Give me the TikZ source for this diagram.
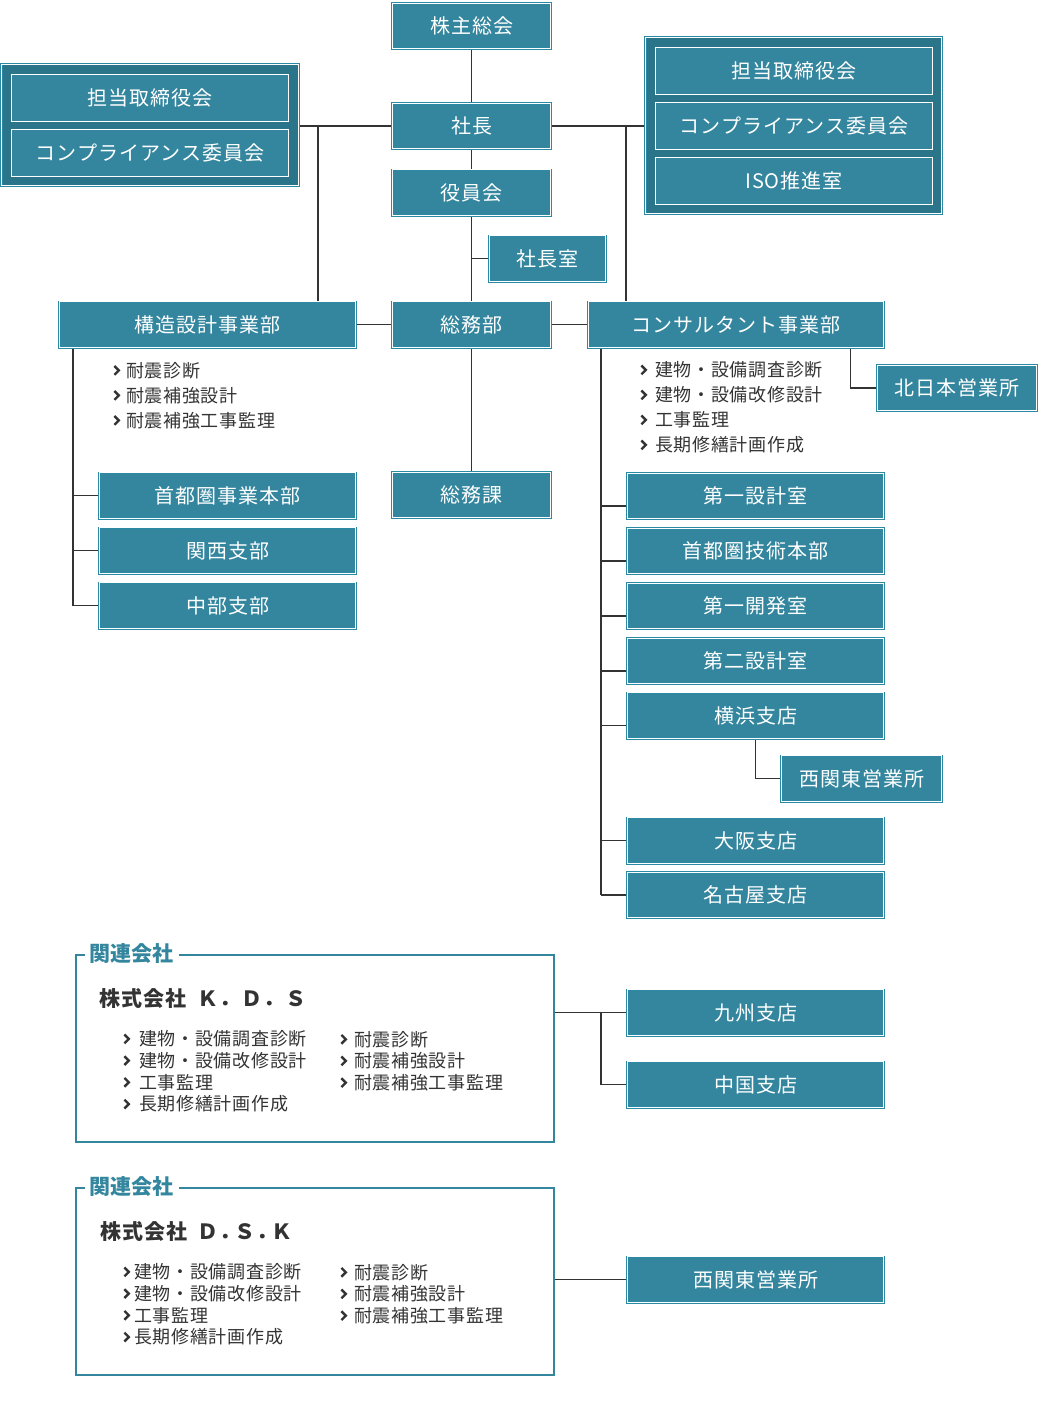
\documentclass[tikz,border=0pt]{standalone}
\usepackage{fontspec}
\usepackage{tikz}
\usetikzlibrary{positioning,calc}
\setmainfont{Noto Sans CJK JP}
\newfontfamily\boxfont[LetterSpace=5]{Noto Sans CJK JP}
\newfontfamily\listfont[LetterSpace=4]{Noto Sans CJK JP}
\newfontfamily\firmfont[LetterSpace=5]{Noto Sans CJK JP}
\definecolor{OrgTeal}{RGB}{51,134,158}
\definecolor{OrgDeep}{RGB}{42,117,137}
\definecolor{OrgEdge}{RGB}{44,137,163}
\definecolor{InkGray}{RGB}{51,51,51}
\pgfdeclarelayer{links}
\pgfsetlayers{links,main}
\newcommand{\chev}[1][8pt]{\tikz[baseline=0pt]\draw[InkGray,line width=2.4pt,line join=miter]
  (0pt,2.4pt)--(4.4pt,6.8pt)--(0pt,11.2pt);\hspace{#1}}
\tikzset{
  unit/.style={draw=OrgEdge,double=white,double distance=0.9pt,line width=0.8pt,
    fill=OrgTeal,text=white,inner sep=0pt,minimum height=45.5pt,
    font=\boxfont\fontsize{20}{24}\selectfont},
  grp/.style={draw=OrgEdge,double=white,double distance=0.9pt,line width=0.8pt,
    fill=OrgDeep,inner sep=0pt},
  inunit/.style={draw=white,line width=1pt,fill=OrgTeal,text=white,inner sep=0pt,
    minimum width=277pt,minimum height=47pt,font=\boxfont\fontsize{20}{24}\selectfont},
  link/.style={draw=InkGray,line width=1.3pt},
  duties/.style={text=InkGray,inner sep=0pt,align=left,anchor=west,
    font=\listfont\fontsize{18}{25}\selectfont},
  affduties/.style={duties,font=\listfont\fontsize{18}{21.7}\selectfont},
  affil/.style={draw=OrgTeal,line width=2pt,inner sep=0pt,minimum width=478.3pt,minimum height=187pt},
  afftitle/.style={fill=white,text=OrgTeal,inner sep=5pt,anchor=west,
    font=\bfseries\fontsize{21}{24}\selectfont},
  firm/.style={text=InkGray,inner sep=0pt,anchor=west,font=\firmfont\bfseries\fontsize{21}{24}\selectfont},
}

\begin{document}
\begin{tikzpicture}[x=1pt,y=-1pt]
\useasboundingbox (0,0) rectangle (1040,1421);
\node[unit,minimum width=158.5pt] (kabu) at (471.5,26) {株主総会};
\node[unit,minimum width=158.5pt] (shacho) at (471.5,126) {社長};
\node[unit,minimum width=158.5pt] (yakuin) at (471.5,192.5) {役員会};
\node[unit,minimum width=116.5pt] (shitsu) at (547.5,258.5) {社長室};
\node[unit,minimum width=296.5pt] (kozo) at (207.5,324.5) {構造設計事業部};
\node[unit,minimum width=158.5pt] (somu) at (471.5,324.5) {総務部};
\node[unit,minimum width=295.5pt] (consul) at (736,324.5) {コンサルタント事業部};
\node[unit,minimum width=159.5pt] (kitanihon) at (957,388) {北日本営業所};
\node[unit,minimum width=158.5pt] (somuka) at (471.5,495) {総務課};

\node[grp,minimum width=297.5pt,minimum height=121.5pt] (leftgrp) at (150,125) {};
\node[inunit] (ltori) at (150,98) {担当取締役会};
\node[inunit] (lcomp) at (150,153) {コンプライアンス委員会};
\node[grp,minimum width=296.5pt,minimum height=176.5pt] (rightgrp) at (793.5,125.5) {};
\node[inunit] (rtori) at (794,71) {担当取締役会};
\node[inunit] (rcomp) at (794,126) {コンプライアンス委員会};
\node[inunit] (riso) at (794,181) {ISO推進室};

\node[unit,minimum width=256.5pt] (shuto) at (227.5,495.5) {首都圏事業本部};
\node[unit,minimum width=256.5pt] (kansai) at (227.5,550.5) {関西支部};
\node[unit,minimum width=256.5pt] (chubu) at (227.5,605.5) {中部支部};

\node[unit,minimum width=256.5pt] (dai1) at (755.5,496) {第一設計室};
\node[unit,minimum width=256.5pt] (gijutsu) at (755.5,551) {首都圏技術本部};
\node[unit,minimum width=256.5pt] (kaihatsu) at (755.5,606) {第一開発室};
\node[unit,minimum width=256.5pt] (dai2) at (755.5,661) {第二設計室};
\node[unit,minimum width=256.5pt] (yokohama) at (755.5,715.5) {横浜支店};
\node[unit,minimum width=160.5pt] (nishikanto) at (861.5,778.5) {西関東営業所};
\node[unit,minimum width=256.5pt] (osaka) at (755.5,840.5) {大阪支店};
\node[unit,minimum width=256.5pt] (nagoya) at (755.5,895) {名古屋支店};
\node[unit,minimum width=256.5pt] (kyushu) at (755.5,1012.5) {九州支店};
\node[unit,minimum width=256.5pt] (chugoku) at (755.5,1084.5) {中国支店};
\node[unit,minimum width=256.5pt] (nishikanto2) at (755.5,1279.5) {西関東営業所};

\node[duties] (kozolist) at (113,395.5) {\chev[6pt]耐震診断\\ \chev[6pt]耐震補強設計\\ \chev[6pt]耐震補強工事監理};
\node[duties] (consullist) at (640,407.5) {\chev 建物・設備調査診断\\ \chev 建物・設備改修設計\\
  \chev 工事監理\\ \chev 長期修繕計画作成};

\node[affil] (kds) at (314.85,1048.5) {};
\node[afftitle] (kdstitle) at ([xshift=10pt]kds.north west) {関連会社};
\node[firm] (kdsname) at (99,998) {株式会社\hspace{11pt}Ｋ．Ｄ．Ｓ};
\node[affduties] (kdslist) at (123,1071.5)
  {\chev[9pt]建物・設備調査診断\\ \chev[9pt]建物・設備改修設計\\ \chev[9pt]工事監理\\ \chev[9pt]長期修繕計画作成};
\node[affduties] (kdslist2) at (340,1061)
  {\chev[7pt]耐震診断\\ \chev[7pt]耐震補強設計\\ \chev[7pt]耐震補強工事監理};

\node[affil] (dsk) at (314.85,1281.5) {};
\node[afftitle] (dsktitle) at ([xshift=10pt]dsk.north west) {関連会社};
\node[firm] (dskname) at (100,1231) {株式会社\hspace{10pt}Ｄ．\hspace{-6pt}Ｓ．\hspace{-6pt}Ｋ};
\node[affduties] (dsklist) at (123,1304.5)
  {\chev[4pt]建物・設備調査診断\\ \chev[4pt]建物・設備改修設計\\ \chev[4pt]工事監理\\ \chev[4pt]長期修繕計画作成};
\node[affduties] (dsklist2) at (340,1294)
  {\chev[7pt]耐震診断\\ \chev[7pt]耐震補強設計\\ \chev[7pt]耐震補強工事監理};

\coordinate (ljoin) at (318,126);
\coordinate (rjoin) at (626,126);
\coordinate (kozobus) at (73,349);
\coordinate (conbus) at (601,349);

\begin{pgfonlayer}{links}
\draw[link] (kabu.south) -- (shacho.north);
\draw[link] (shacho.south) -- (yakuin.north);
\draw[link] (yakuin.south) -- (somu.north);
\draw[link] (somu.south) -- (somuka.north);
\draw[link] (leftgrp.east |- shacho.west) -- (shacho.west);
\draw[link] (shacho.east) -- (rightgrp.west |- shacho.east);
\draw[link] (ljoin) -- (ljoin |- kozo.north);
\draw[link] (rjoin) -- (rjoin |- consul.north);
\draw[link] (yakuin.south |- shitsu.west) -- (shitsu.west);
\draw[link] (kozo.east) -- (somu.west);
\draw[link] (somu.east) -- (consul.west);
\draw[link] (kozobus |- kozo.south) -- (kozobus |- chubu.west);
\foreach \b in {shuto,kansai,chubu}
  \draw[link] (kozobus |- \b.west) -- (\b.west);
\draw[link] (conbus |- consul.south) -- (conbus |- nagoya.west);
\foreach \b in {dai1,gijutsu,kaihatsu,dai2,yokohama}{
  \coordinate (\b-tap) at ([yshift=-10pt]\b.west);
  \draw[link] (conbus |- \b-tap) -- (\b-tap);
}
\foreach \b in {osaka,nagoya}
  \draw[link] (conbus |- \b.west) -- (\b.west);
\draw[link] ([xshift=-34pt]consul.south east) |- (kitanihon.west);
\draw[link] (yokohama.south) |- (nishikanto.west);
\draw[link] (kds.east |- kyushu.west) -- (kyushu.west);
\draw[link] (conbus |- kyushu.west) |- (chugoku.west);
\draw[link] (dsk.east |- nishikanto2.west) -- (nishikanto2.west);
\end{pgfonlayer}
\end{tikzpicture}
\end{document}
